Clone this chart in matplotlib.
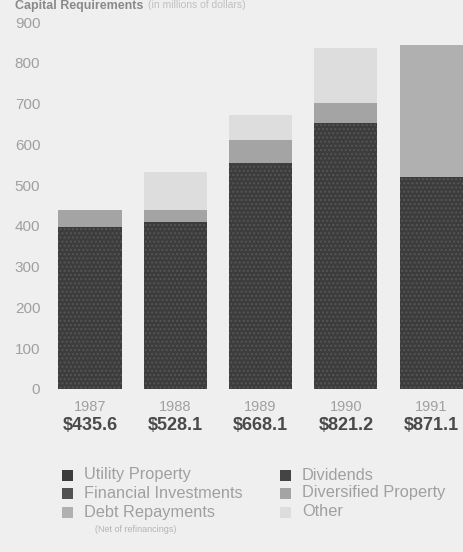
import matplotlib.pyplot as plt
from matplotlib.patches import Rectangle
from matplotlib.transforms import blended_transform_factory

plt.rcParams['font.family'] = ['Liberation Sans', 'DejaVu Sans']

# Datos (millones de dólares)
years = ['1987', '1988', '1989', '1990', '1991']
totals = ['$435.6', '$528.1', '$668.1', '$821.2', '$871.1']
utility = [397, 410, 554, 652, 520]
dividends = [0, 0, 0, 0, 0]
financial = [0, 0, 0, 0, 0]
diversified = [42, 29, 57, 49, 0]
debt = [0, 0, 0, 0, 324]
other = [0, 93, 61, 135, 0]

series = [
    ('Utility Property', utility, '#3c3c3c', '....'),
    ('Dividends', dividends, '#444444', '....'),
    ('Financial Investments', financial, '#525252', '....'),
    ('Diversified Property', diversified, '#a4a4a4', None),
    ('Debt Repayments', debt, '#b0b0b0', None),
    ('Other', other, '#dddddd', None),
]

bg = '#efefef'
fig = plt.figure(figsize=(4.63, 5.52), dpi=100, facecolor=bg)
ax = fig.add_axes([50 / 463, (552 - 389) / 552, 413 / 463, 367 / 552])
ax.set_facecolor(bg)

x = list(range(len(years)))
bottom = [0] * len(years)
for name, vals, color, hatch in series:
    ax.bar(x, vals, width=0.74, bottom=bottom, color=color, linewidth=0,
           hatch=hatch, edgecolor='#555555' if hatch else color)
    bottom = [b + v for b, v in zip(bottom, vals)]

ax.set_xlim(-0.469, 4.373)
ax.set_ylim(0, 900)
ax.set_yticks(range(0, 901, 100))
ax.tick_params(axis='y', length=0, pad=7, labelsize=11, labelcolor='#a0a0a0')
ax.set_xticks([])
for s in ax.spines.values():
    s.set_visible(False)

trans = blended_transform_factory(ax.transData, fig.transFigure)
for i in x:
    ax.text(i, 1 - 407 / 552, years[i], transform=trans, ha='center', va='center',
            fontsize=10.5, color='#a0a0a0')
    ax.text(i, 1 - 425 / 552, totals[i], transform=trans, ha='center', va='center',
            fontsize=13, fontweight='bold', color='#4a4a4a')

# Título en el borde superior
fig.text(15 / 463, 1, 'Capital Requirements', ha='left', va='top',
         fontsize=9, fontweight='bold', color='#8a8a8a')
fig.text(148 / 463, 1, '(in millions of dollars)', ha='left', va='top',
         fontsize=7.5, color='#c0c0c0')

# Leyenda manual en dos columnas
order = [0, 2, 4, 1, 3, 5]
rows_y = [475, 493, 512]
cols_x = [62, 280]
for k, idx in enumerate(order):
    name, vals, color, hatch = series[idx]
    cx = cols_x[k // 3]
    cy = rows_y[k % 3]
    fig.patches.append(Rectangle((cx / 463, 1 - (cy + 5.5) / 552), 11 / 463, 11 / 552,
                                 transform=fig.transFigure, facecolor=color,
                                 linewidth=0, hatch=None))
    fig.text((cx + 22) / 463, 1 - cy / 552, name, ha='left', va='center',
             fontsize=11.8, color='#a0a0a0')
fig.text(95 / 463, 1 - 529 / 552, '(Net of refinancings)', ha='left', va='center',
         fontsize=6.5, color='#b4b4b4')

fig.savefig('out.png', dpi=100, facecolor=bg)
